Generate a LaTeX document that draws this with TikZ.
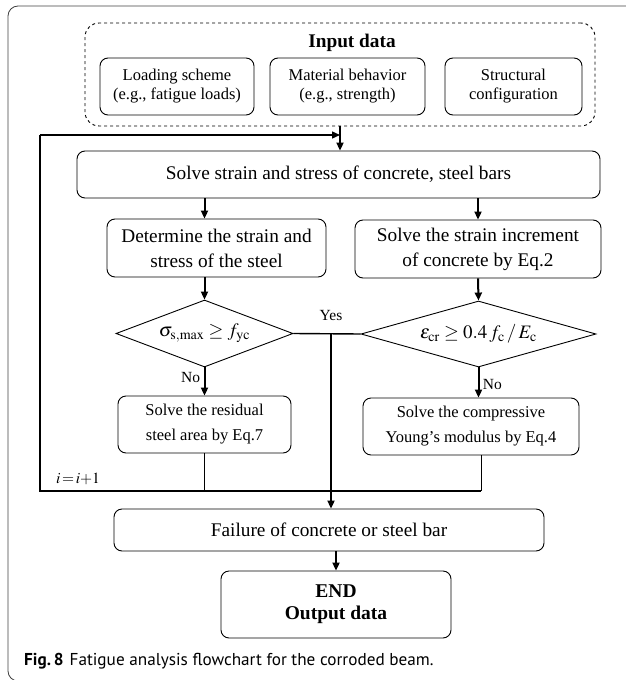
\documentclass[tikz,border=0pt]{standalone}
\usepackage{amsmath,amssymb}
\usepackage{mathptmx}
\usepackage{fontspec}
\setmainfont{Liberation Serif}
\newfontfamily\capfont{PT Sans}
\usepackage{tikz}
\usetikzlibrary{arrows.meta,shapes.geometric}

\begin{document}
\begin{tikzpicture}[x=1pt,y=-1pt,
  box/.style={draw, line width=0.9pt, rounded corners=8pt, align=center, inner sep=0pt, font=\fontsize{19.3}{25}\selectfont},
  smallbox/.style={box, font=\fontsize{16.5}{25}\selectfont},
  inbox/.style={box, font=\fontsize{16.5}{19}\selectfont},
  decision/.style={draw, line width=0.9pt, diamond, inner sep=0pt, font=\fontsize{19}{22}\selectfont},
  label/.style={font=\fontsize{15.5}{18}\selectfont},
  arr/.style={-{Triangle[length=8pt,width=7pt]}, line width=2pt},
  loopline/.style={line width=1.4pt}]
\useasboundingbox (0,0) rectangle (626,680);
\clip (0,0) rectangle (626,680);
\draw[black!75, line width=0.8pt, rounded corners=10pt] (660,6) -- (8,6) -- (8,681) -- (660,681);

% input block
\node[draw, dashed, line width=0.9pt, rounded corners=14pt, minimum width=510pt, minimum height=103pt] (input) at (340,74.5) {};
\node[font=\fontsize{19.3}{22}\selectfont\bfseries] (title) at (352,43) {Input data};
\node[inbox, minimum width=154pt, minimum height=57pt] (load) at (177,86.5) {Loading scheme\\(e.g., fatigue loads)};
\node[inbox, minimum width=155pt, minimum height=57pt] (mat) at (347.5,86.5) {Material behavior\\(e.g., strength)};
\node[inbox, minimum width=137pt, minimum height=57pt] (struct) at (513.5,86.5) {Structural\\configuration};

% main loop
\node[box, minimum width=523pt, minimum height=47pt] (solve) at (338.5,174.5) {Solve strain and stress of concrete, steel bars};
\node[box, minimum width=219pt, minimum height=58pt] (steel) at (216.5,248) {Determine the strain and\\stress of the steel};
\node[box, minimum width=246pt, minimum height=58pt] (incr) at (478,249) {Solve the strain increment\\of concrete by Eq.2};
\node[decision, minimum width=177pt, minimum height=67pt, aspect=2.64] (chks) at (204.5,333.5) {$\sigma_{\mathrm{s,max}}\geq f_{\mathrm{yc}}$};
\node[decision, minimum width=235pt, minimum height=66pt, aspect=3.56] (chkc) at (478.5,334) {$\varepsilon_{\mathrm{cr}}\geq 0.4\,f_{\mathrm{c}}\,/\,E_{\mathrm{c}}$};
\node[smallbox, minimum width=173pt, minimum height=57pt] (resid) at (204.5,424.5) {Solve the residual\\steel area by Eq.7};
\node[smallbox, minimum width=216pt, minimum height=57pt] (young) at (471,426.5) {Solve the compressive\\Young's modulus by Eq.4};
\node[box, minimum width=430pt, minimum height=42pt] (fail) at (329,530) {Failure of concrete or steel bar};
\node[box, minimum width=230pt, minimum height=67pt, font=\fontsize{19.5}{22}\selectfont\bfseries] (finish) at (336,604.5) {END\\Output data};

\coordinate (yesjoin) at (331,333.5);
\coordinate (loopR) at (481,491);
\coordinate (loopL) at (40,491);
\coordinate (loopT) at (40,135);

\draw[arr] (input.south) -- (solve.north -| input.south);
\draw[arr] (solve.south -| chks.north) -- (steel.north -| chks.north);
\draw[arr] (solve.south -| incr.north) -- (incr.north);
\draw[arr] (steel.south -| chks.north) -- (chks.north);
\draw[arr] (incr.south) -- (chkc.north);
\draw[arr] (chks.south) -- node[label, left, pos=0.35] {No} (resid.north);
\draw[arr] (chkc.south) -- node[label, right, pos=0.55] {No} (young.north -| chkc.south);
\draw[line width=1.4pt] (chks.east) -- (chkc.west);
\node[label] (yes) at (331,315) {Yes};
\draw[arr] (yesjoin) -- (yesjoin |- fail.north);
\draw[line width=0.8pt] (resid.south) -- (resid.south |- loopL);
\draw[line width=0.8pt] (loopR |- young.south) -- (loopR);
\draw[loopline] (loopR) -- (loopL) -- (loopT);
\draw[arr, line width=1.4pt] (loopT) -- (loopT -| input.south);
\node[font=\fontsize{15.5}{18}\selectfont] (iter) at (78,479) {$i\,{=}\,i{+}1$};
\draw[arr] (fail.south -| finish.north) -- (finish.north);

% caption
\node[anchor=base west, inner sep=0pt, font=\capfont\fontsize{17.2}{20}\selectfont] (caption) at (24,665) {\textbf{Fig.\,8}\hspace{6pt}Fatigue analysis flowchart for the corroded beam.};
\end{tikzpicture}
\end{document}
